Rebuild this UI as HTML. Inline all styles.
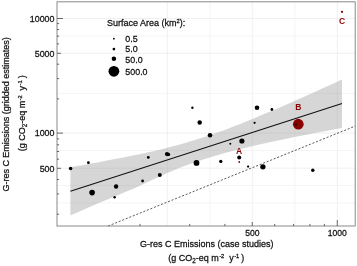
<!DOCTYPE html><html><head><meta charset="utf-8"><style>html,body{margin:0;padding:0;background:#fff}svg{display:block}text{stroke:#111;stroke-width:0.25px;paint-order:stroke}text.r{stroke:none}</style></head><body><svg width="357" height="266" viewBox="0 0 357 266" font-family="Liberation Sans, Arial, sans-serif" >
<rect width="357" height="266" fill="#fff"/>
<line x1="167.3" y1="1.8" x2="167.3" y2="226.0" stroke="#eeeeee" stroke-width="0.9"/>
<line x1="252.3" y1="1.8" x2="252.3" y2="226.0" stroke="#eeeeee" stroke-width="0.9"/>
<line x1="337.3" y1="1.8" x2="337.3" y2="226.0" stroke="#eeeeee" stroke-width="0.9"/>
<line x1="209.8" y1="1.8" x2="209.8" y2="226.0" stroke="#f1f1f1" stroke-width="0.8"/>
<line x1="294.8" y1="1.8" x2="294.8" y2="226.0" stroke="#f1f1f1" stroke-width="0.8"/>
<line x1="57.0" y1="18.5" x2="355.2" y2="18.5" stroke="#eeeeee" stroke-width="0.9"/>
<line x1="57.0" y1="53.3" x2="355.2" y2="53.3" stroke="#eeeeee" stroke-width="0.9"/>
<line x1="57.0" y1="133.1" x2="355.2" y2="133.1" stroke="#eeeeee" stroke-width="0.9"/>
<line x1="57.0" y1="168.2" x2="355.2" y2="168.2" stroke="#eeeeee" stroke-width="0.9"/>
<line x1="57.0" y1="35.8" x2="355.2" y2="35.8" stroke="#f1f1f1" stroke-width="0.8"/>
<line x1="57.0" y1="93.4" x2="355.2" y2="93.4" stroke="#f1f1f1" stroke-width="0.8"/>
<line x1="57.0" y1="150.5" x2="355.2" y2="150.5" stroke="#f1f1f1" stroke-width="0.8"/>
<line x1="57.0" y1="185.5" x2="355.2" y2="185.5" stroke="#f1f1f1" stroke-width="0.8"/>
<line x1="57.0" y1="202.8" x2="355.2" y2="202.8" stroke="#f1f1f1" stroke-width="0.8"/>
<polygon fill="#999999" fill-opacity="0.4" points="70.4,167.3 77.2,166.1 84.0,164.9 90.8,163.6 97.6,162.4 104.4,161.1 111.1,159.8 117.9,158.5 124.7,157.2 131.5,155.8 138.3,154.4 145.1,152.9 151.9,151.4 158.7,149.9 165.5,148.2 172.2,146.5 179.0,144.7 185.8,142.8 192.6,140.8 199.4,138.6 206.2,136.4 213.0,134.1 219.8,131.7 226.6,129.2 233.4,126.6 240.2,123.9 246.9,121.2 253.7,118.4 260.5,115.6 267.3,112.8 274.1,109.9 280.9,106.9 287.7,104.0 294.5,101.0 301.3,98.0 308.1,94.9 314.8,91.9 321.6,88.8 328.4,85.7 335.2,82.7 342.0,79.6 342.0,128.0 335.2,129.2 328.4,130.5 321.6,131.8 314.8,133.1 308.1,134.4 301.3,135.8 294.5,137.1 287.7,138.5 280.9,139.9 274.1,141.3 267.3,142.8 260.5,144.3 253.7,145.8 246.9,147.4 240.2,149.1 233.4,150.8 226.6,152.6 219.8,154.5 213.0,156.4 206.2,158.5 199.4,160.7 192.6,163.0 185.8,165.5 179.0,168.1 172.2,170.9 165.5,173.8 158.7,176.9 151.9,180.0 145.1,183.2 138.3,186.4 131.5,189.4 124.7,192.3 117.9,195.2 111.1,198.0 104.4,200.7 97.6,203.6 90.8,206.5 84.0,209.4 77.2,212.5 70.4,215.6"/>
<line x1="70.4" y1="191.3" x2="342.0" y2="103.6" stroke="#111" stroke-width="1.1"/>
<line x1="108.1" y1="226.0" x2="355.2" y2="126.1" stroke="#333" stroke-width="0.8" stroke-dasharray="2.1 1.7"/>
<circle cx="70.6" cy="168.5" r="1.80" fill="#000"/>
<circle cx="88.4" cy="162.7" r="1.40" fill="#000"/>
<circle cx="92.1" cy="192.6" r="2.80" fill="#000"/>
<circle cx="116.1" cy="186.5" r="2.20" fill="#000"/>
<circle cx="114.6" cy="197.2" r="1.20" fill="#000"/>
<circle cx="142.6" cy="181.0" r="1.40" fill="#000"/>
<circle cx="148.3" cy="157.4" r="1.40" fill="#000"/>
<circle cx="167.0" cy="154.1" r="2.10" fill="#000"/>
<circle cx="168.6" cy="154.4" r="1.60" fill="#000"/>
<circle cx="159.8" cy="175.1" r="2.00" fill="#000"/>
<circle cx="199.7" cy="122.5" r="2.25" fill="#000"/>
<circle cx="210.0" cy="135.3" r="2.25" fill="#000"/>
<circle cx="196.5" cy="162.9" r="2.90" fill="#000"/>
<circle cx="220.8" cy="161.4" r="1.65" fill="#000"/>
<circle cx="230.3" cy="143.8" r="1.00" fill="#000"/>
<circle cx="241.9" cy="141.0" r="2.60" fill="#000"/>
<circle cx="239.2" cy="157.6" r="2.00" fill="#000"/>
<circle cx="248.1" cy="166.6" r="1.15" fill="#000"/>
<circle cx="262.9" cy="166.8" r="2.65" fill="#000"/>
<circle cx="257.0" cy="107.7" r="2.30" fill="#000"/>
<circle cx="271.9" cy="109.5" r="1.40" fill="#000"/>
<circle cx="254.6" cy="122.8" r="1.15" fill="#000"/>
<circle cx="312.8" cy="170.2" r="1.70" fill="#000"/>
<circle cx="192.4" cy="107.7" r="1.20" fill="#000"/>
<circle cx="298.3" cy="124.2" r="5.35" fill="#8b0000"/>
<circle cx="295.8" cy="124.7" r="1.1" fill="#000"/>
<circle cx="342" cy="11.8" r="1.15" fill="#8b0000"/>
<circle cx="239.2" cy="162" r="0.9" fill="#8b0000"/>
<text x="239.1" y="154.1" font-size="8.5" class="r" font-weight="bold" fill="#8b0000" text-anchor="middle">A</text>
<text x="298.2" y="110.1" font-size="8.5" class="r" font-weight="bold" fill="#8b0000" text-anchor="middle">B</text>
<text x="342.0" y="24.3" font-size="8.5" class="r" font-weight="bold" fill="#8b0000" text-anchor="middle">C</text>
<rect x="57.0" y="1.8" width="298.2" height="224.2" fill="none" stroke="#8a8a8a" stroke-width="1.0"/>
<line x1="57.0" y1="214.2" x2="59.1" y2="214.2" stroke="#444" stroke-width="0.8"/>
<line x1="57.0" y1="193.9" x2="59.1" y2="193.9" stroke="#444" stroke-width="0.8"/>
<line x1="57.0" y1="179.5" x2="59.1" y2="179.5" stroke="#444" stroke-width="0.8"/>
<line x1="57.0" y1="168.3" x2="61.0" y2="168.3" stroke="#444" stroke-width="0.8"/>
<line x1="57.0" y1="159.2" x2="59.1" y2="159.2" stroke="#444" stroke-width="0.8"/>
<line x1="57.0" y1="151.5" x2="59.1" y2="151.5" stroke="#444" stroke-width="0.8"/>
<line x1="57.0" y1="144.8" x2="59.1" y2="144.8" stroke="#444" stroke-width="0.8"/>
<line x1="57.0" y1="138.9" x2="59.1" y2="138.9" stroke="#444" stroke-width="0.8"/>
<line x1="57.0" y1="133.1" x2="63.0" y2="133.1" stroke="#444" stroke-width="0.8"/>
<line x1="57.0" y1="98.9" x2="59.1" y2="98.9" stroke="#444" stroke-width="0.8"/>
<line x1="57.0" y1="78.6" x2="59.1" y2="78.6" stroke="#444" stroke-width="0.8"/>
<line x1="57.0" y1="64.2" x2="59.1" y2="64.2" stroke="#444" stroke-width="0.8"/>
<line x1="57.0" y1="53.3" x2="61.0" y2="53.3" stroke="#444" stroke-width="0.8"/>
<line x1="57.0" y1="43.9" x2="59.1" y2="43.9" stroke="#444" stroke-width="0.8"/>
<line x1="57.0" y1="36.2" x2="59.1" y2="36.2" stroke="#444" stroke-width="0.8"/>
<line x1="57.0" y1="29.5" x2="59.1" y2="29.5" stroke="#444" stroke-width="0.8"/>
<line x1="57.0" y1="23.6" x2="59.1" y2="23.6" stroke="#444" stroke-width="0.8"/>
<line x1="57.0" y1="18.5" x2="63.0" y2="18.5" stroke="#444" stroke-width="0.8"/>
<line x1="140.0" y1="226.0" x2="140.0" y2="223.9" stroke="#444" stroke-width="0.8"/>
<line x1="189.7" y1="226.0" x2="189.7" y2="223.9" stroke="#444" stroke-width="0.8"/>
<line x1="224.9" y1="226.0" x2="224.9" y2="223.9" stroke="#444" stroke-width="0.8"/>
<line x1="252.3" y1="226.0" x2="252.3" y2="222.0" stroke="#444" stroke-width="0.8"/>
<line x1="274.7" y1="226.0" x2="274.7" y2="223.9" stroke="#444" stroke-width="0.8"/>
<line x1="293.6" y1="226.0" x2="293.6" y2="223.9" stroke="#444" stroke-width="0.8"/>
<line x1="309.9" y1="226.0" x2="309.9" y2="223.9" stroke="#444" stroke-width="0.8"/>
<line x1="324.4" y1="226.0" x2="324.4" y2="223.9" stroke="#444" stroke-width="0.8"/>
<line x1="337.3" y1="226.0" x2="337.3" y2="220.0" stroke="#444" stroke-width="0.8"/>
<text transform="translate(54.5,21.8) scale(1,1.07)" font-size="8.9" fill="#111" text-anchor="end" >10000</text>
<text transform="translate(54.5,56.6) scale(1,1.07)" font-size="8.9" fill="#111" text-anchor="end" >5000</text>
<text transform="translate(54.5,136.4) scale(1,1.07)" font-size="8.9" fill="#111" text-anchor="end" >1000</text>
<text transform="translate(54.5,171.6) scale(1,1.07)" font-size="8.9" fill="#111" text-anchor="end" >500</text>
<text transform="translate(252.3,236.0) scale(1,1.07)" font-size="8.6" fill="#111" text-anchor="middle" >500</text>
<text transform="translate(337.3,236.0) scale(1,1.07)" font-size="8.6" fill="#111" text-anchor="middle" >1000</text>
<text transform="translate(140.1,247.0) scale(1,1.07)" font-size="9" fill="#111" text-anchor="start" >G-res C Emissions (case studies)</text>
<text transform="translate(168.3,261.4) scale(1,1.07)" font-size="9" fill="#111" text-anchor="start" >(g CO<tspan font-size="6.3" dy="1.9">2</tspan><tspan dy="-1.9">-eq m</tspan><tspan font-size="5.8" dy="-3.2" dx="0.4">-2</tspan><tspan dy="3.2" dx="2.3"> y</tspan><tspan font-size="5.8" dy="-3.2" dx="0.5">-1</tspan><tspan dy="3.2" dx="2.0">)</tspan></text>
<text transform="translate(9.3,191.6) rotate(-90) scale(1,1.07)" font-size="9" fill="#111" text-anchor="start" >G-res C Emissions (gridded estimates)</text>
<text transform="translate(25.4,151.3) rotate(-90) scale(1,1.07)" font-size="9" fill="#111" text-anchor="start" >(g CO<tspan font-size="6.3" dy="1.9">2</tspan><tspan dy="-1.9">-eq m</tspan><tspan font-size="5.8" dy="-3.2" dx="0.4">-2</tspan><tspan dy="3.2" dx="2.3"> y</tspan><tspan font-size="5.8" dy="-3.2" dx="0.5">-1</tspan><tspan dy="3.2" dx="2.0">)</tspan></text>
<text transform="translate(107.1,26.4) scale(1,1.07)" font-size="9" fill="#111" text-anchor="start" >Surface Area (km<tspan font-size="5.8" dy="-3.3">2</tspan><tspan dy="3.3">):</tspan></text>
<circle cx="113.9" cy="38.7" r="0.9" fill="#000"/>
<text transform="translate(125.3,42.1) scale(1,1.07)" font-size="8.9" fill="#111" text-anchor="start" >0.5</text>
<circle cx="113.9" cy="49.1" r="1.35" fill="#000"/>
<text transform="translate(125.3,52.3) scale(1,1.07)" font-size="8.9" fill="#111" text-anchor="start" >5.0</text>
<circle cx="113.9" cy="58.7" r="2.25" fill="#000"/>
<text transform="translate(125.3,62.8) scale(1,1.07)" font-size="8.9" fill="#111" text-anchor="start" >50.0</text>
<circle cx="113.9" cy="71.3" r="5.4" fill="#000"/>
<text transform="translate(125.3,74.9) scale(1,1.07)" font-size="8.9" fill="#111" text-anchor="start" >500.0</text>
</svg></body></html>
